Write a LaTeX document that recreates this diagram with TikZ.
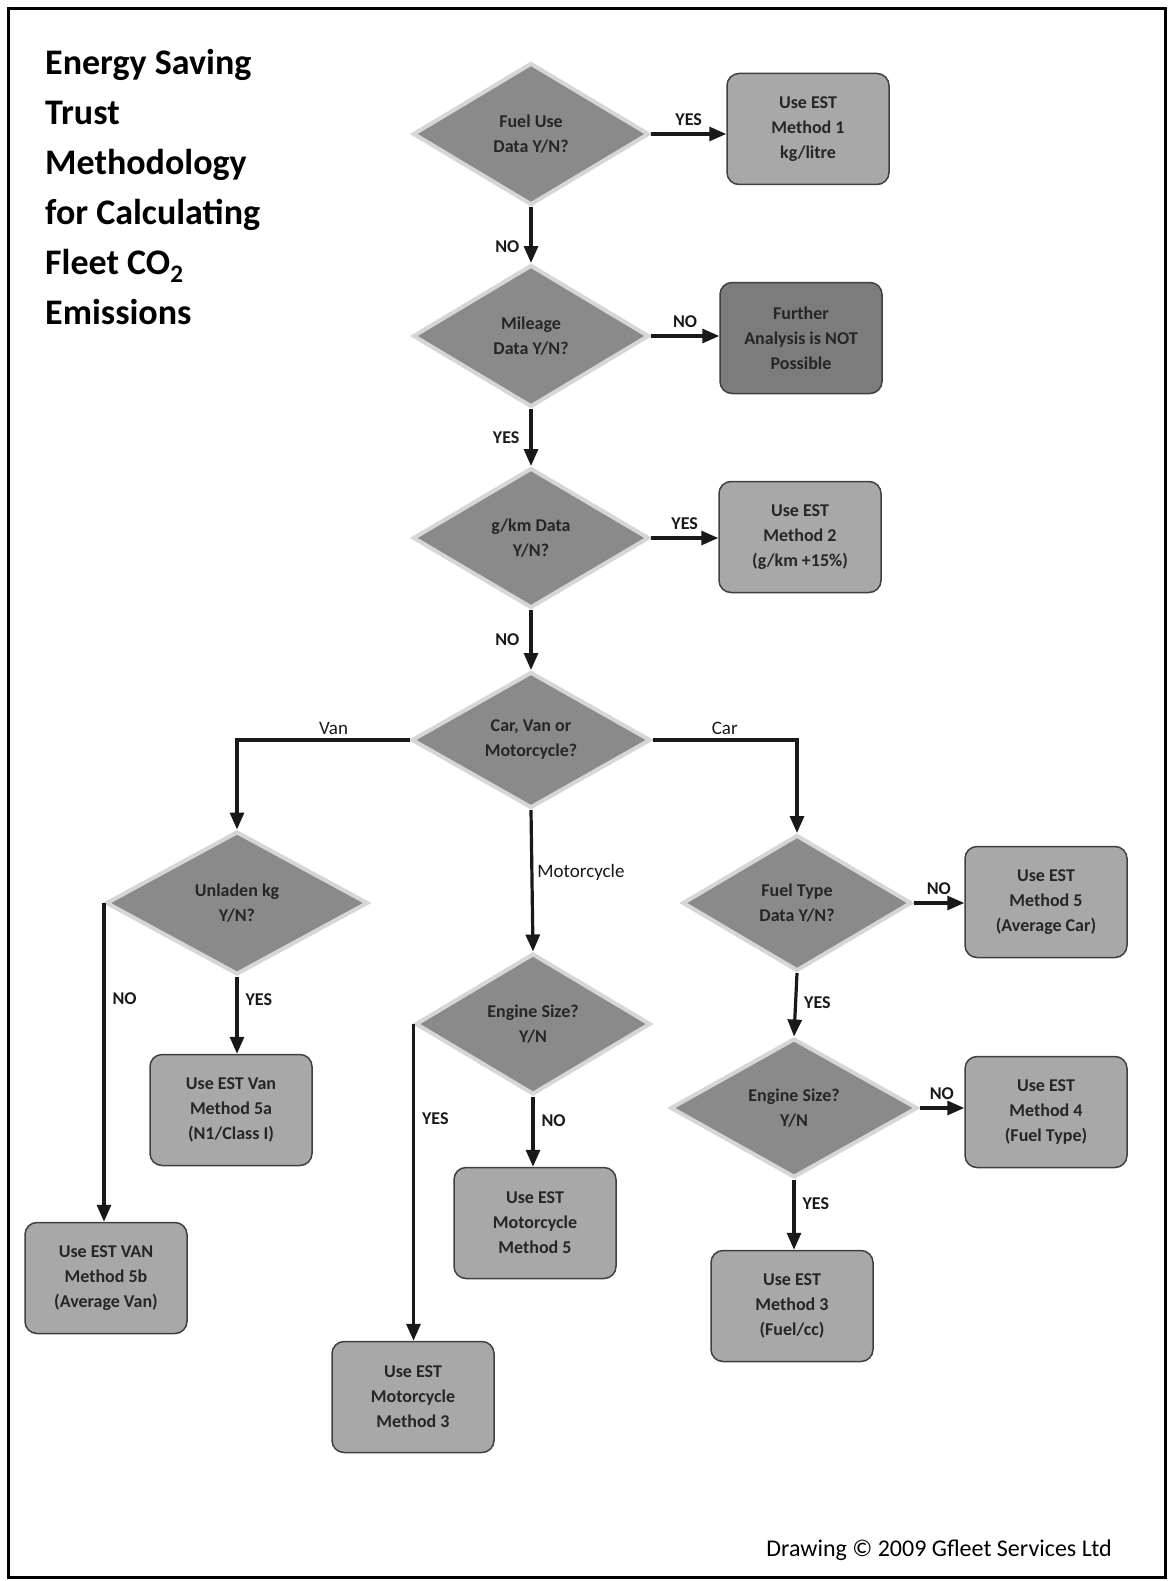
\documentclass[tikz,border=0pt]{standalone}
\usepackage{fontspec}
\setmainfont{Carlito}
\usepackage{tikz}
\usepackage{color}
\usetikzlibrary{shapes.geometric,arrows.meta}
\definecolor{dgray}{HTML}{8A8A8A}
\definecolor{lgray}{HTML}{D6D6D6}
\definecolor{bgray}{HTML}{A8A8A8}
\definecolor{fgray}{HTML}{7C7C7C}
\definecolor{txt}{HTML}{262626}

\begin{document}
\begin{tikzpicture}[x=1pt,y=-1pt,
	dec node/.style={diamond,aspect=1.7,fill=dgray,draw=lgray,line width=4pt,text=txt,font=\bfseries\fontsize{18}{25}\selectfont,align=center,inner sep=0pt,minimum width=236pt,minimum height=142pt},
	res node/.style={rectangle,rounded corners=12pt,fill=bgray,draw=black!75,line width=1.5pt,text=txt,font=\bfseries\fontsize{18}{25}\selectfont,align=center,minimum width=162pt,minimum height=111pt},
	arr/.style={-{Triangle[length=17pt,width=14pt]},line width=3.2pt,black!90},
	lbl/.style={font=\bfseries\fontsize{18}{20}\selectfont,inner sep=7pt},
	br lbl/.style={font=\fontsize{19}{22}\selectfont,inner sep=4pt}]
	\useasboundingbox (0,0) rectangle (1171,1581);
	\fill[white] (0,0) rectangle (1171,1581);
	\draw[line width=3pt] (8,9) rectangle (1165,1577);

	\node[anchor=north west,align=left,inner sep=0pt,font=\bfseries\fontsize{36}{50}\selectfont] (T) at (45,49) {Energy Saving\\Trust\\Methodology\\for Calculating\\Fleet CO\textsubscript{2}\\Emissions};
	\node[anchor=base east,inner sep=0pt,font=\fontsize{24}{28}\selectfont] (U) at (1112,1556) {Drawing \textcopyright{} 2009 Gfleet Services Ltd};

	\node[dec node] (A) at (531,134) {Fuel Use\\Data Y/N?};
	\node[res node] (B) at (808,129) {Use EST\\Method 1\\kg/litre};
	\node[dec node] (C) at (531,336) {Mileage\\Data Y/N?};
	\node[res node,fill=fgray] (D) at (801,338) {Further\\Analysis is NOT\\Possible};
	\node[dec node,minimum height=140pt] (E) at (531,538) {g/km Data\\Y/N?};
	\node[res node] (F) at (800,537) {Use EST\\Method 2\\(g/km +15\%)};
	\node[dec node,minimum width=239pt,minimum height=136pt] (G) at (531,740) {Car, Van or\\Motorcycle?};

	\node[dec node,minimum width=262pt,minimum height=143pt] (H) at (237,903) {Unladen kg\\Y/N?};
	\node[res node] (I) at (231,1110) {Use EST Van\\Method 5a\\(N1/Class I)};
	\node[res node] (J) at (106,1278) {Use EST VAN\\Method 5b\\(Average Van)};

	\node[dec node,minimum width=235pt,minimum height=141pt] (K) at (533,1024) {Engine Size?\\Y/N};
	\node[res node] (L) at (535,1223) {Use EST\\Motorcycle\\Method 5};
	\node[res node] (M) at (413,1397) {Use EST\\Motorcycle\\Method 3};

	\node[dec node,minimum width=229pt,minimum height=136pt] (N) at (797,903) {Fuel Type\\Data Y/N?};
	\node[res node] (O) at (1046,902) {Use EST\\Method 5\\(Average Car)};
	\node[dec node,minimum width=247pt,minimum height=139pt] (P) at (794,1108) {Engine Size?\\Y/N};
	\node[res node] (Q) at (1046,1112) {Use EST\\Method 4\\(Fuel Type)};
	\node[res node] (R) at (792,1306) {Use EST\\Method 3\\(Fuel/cc)};

	\draw[arr] (A.east) -- node[lbl,above] {YES} (A.east -| B.west);
	\draw[arr] (A.south) -- node[lbl,left,inner sep=10pt,pos=0.7] {NO} (C.north);
	\draw[arr] (C.east) -- node[lbl,above] {NO} (C.east -| D.west);
	\draw[arr] (C.south) -- node[lbl,left,inner sep=10pt] {YES} (E.north);
	\draw[arr] (E.east) -- node[lbl,above] {YES} (E.east -| F.west);
	\draw[arr] (E.south) -- node[lbl,left,inner sep=10pt] {NO} (G.north);
	\draw[arr] (G.west) -| node[br lbl,above,pos=0.22] {Van} (H.north);
	\draw[arr] (G.east) -| node[br lbl,above,pos=0.25] {Car} (N.north);
	\draw[arr] (G.south) -- node[br lbl,right,pos=0.44] {Motorcycle} (K.north);
	\draw[arr] (H.west) -- node[lbl,right,pos=0.3] {NO} (H.west |- J.north);
	\draw[arr] (H.south) -- node[lbl,right,pos=0.3] {YES} (H.south |- I.north);
	\draw[arr] (K.west) -- node[lbl,right,pos=0.3] {YES} (K.west |- M.north);
	\draw[arr] (K.south) -- node[lbl,right,pos=0.35] {NO} (K.south |- L.north);
	\draw[arr] (N.east) -- node[lbl,above] {NO} (N.east -| O.west);
	\draw[arr] (N.south) -- node[lbl,right,pos=0.47] {YES} (P.north);
	\draw[arr] (P.east) -- node[lbl,above] {NO} (P.east -| Q.west);
	\draw[arr] (P.south) -- node[lbl,right,pos=0.35] {YES} (P.south |- R.north);
	%\draw[arr] (L) -- (M);
\end{tikzpicture}
\end{document}
